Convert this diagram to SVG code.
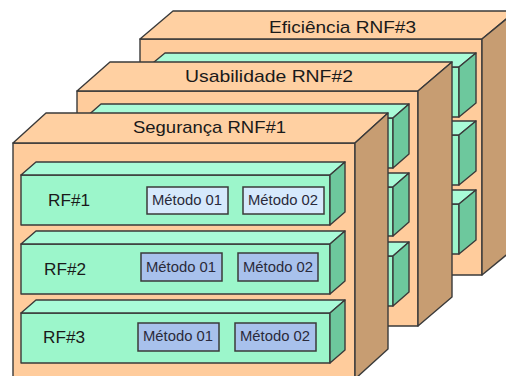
<svg xmlns="http://www.w3.org/2000/svg" width="506" height="376" viewBox="0 0 506 376">
<style>
  .ln{stroke:#3a3a3a;stroke-width:1.4;stroke-linejoin:round}
  .front{fill:#FFCC9C}
  .top{fill:#FFD0A2}
  .side{fill:#C79D72}
  .bfront{fill:#9CF6CB}
  .btop{fill:#A9FBD8}
  .bside{fill:#6DC89D}
  .m1{fill:#D6E9FC;stroke:#3a3a3a;stroke-width:1.5}
  .m2{fill:#A8C1EC;stroke:#3a3a3a;stroke-width:1.5}
  .hdr{font-family:"Liberation Sans",Arial,sans-serif;font-size:17px;fill:#1a1a1a}
  .rf{font-family:"Liberation Sans",Arial,sans-serif;font-size:16px;fill:#1a1a1a}
  .mt{font-family:"Liberation Sans",Arial,sans-serif;font-size:14px;fill:#2a2a3a}
</style>
<rect width="506" height="376" fill="#ffffff"/>

<!-- Box 3: Eficiência -->
<g id="rnf3">
  <rect class="front ln" x="140" y="39" width="342" height="236"/>
  <polygon class="top ln" points="140,39 173,11 516,11 482,39"/>
  <polygon class="side ln" points="482,39 516,11 516,247 482,275"/>
  <text class="hdr" x="269" y="33" textLength="147" lengthAdjust="spacingAndGlyphs">Eficiência RNF#3</text>
  <g id="rnf3-rf1">
    <rect class="bfront ln" x="148" y="67" width="311" height="50"/>
    <polygon class="btop ln" points="148,67 165,53 476,53 459,67"/>
    <polygon class="bside ln" points="459,67 476,53 476,103 459,117"/>
  </g>
  <g id="rnf3-rf2">
    <rect class="bfront ln" x="148" y="135" width="311" height="50"/>
    <polygon class="btop ln" points="148,135 165,121 476,121 459,135"/>
    <polygon class="bside ln" points="459,135 476,121 476,171 459,185"/>
  </g>
  <g id="rnf3-rf3">
    <rect class="bfront ln" x="148" y="204" width="311" height="50"/>
    <polygon class="btop ln" points="148,204 165,190 476,190 459,204"/>
    <polygon class="bside ln" points="459,204 476,190 476,240 459,254"/>
  </g>
</g>

<!-- Box 2: Usabilidade -->
<g id="rnf2">
  <rect class="front ln" x="77" y="91" width="341" height="235"/>
  <polygon class="top ln" points="77,91 110,62 452,62 418,91"/>
  <polygon class="side ln" points="418,91 452,62 452,297 418,326"/>
  <text class="hdr" x="185" y="82" textLength="168" lengthAdjust="spacingAndGlyphs">Usabilidade RNF#2</text>
  <g id="rnf2-rf1">
    <rect class="bfront ln" x="85" y="118" width="308" height="50"/>
    <polygon class="btop ln" points="85,118 101,104 409,104 393,118"/>
    <polygon class="bside ln" points="393,118 409,104 409,154 393,168"/>
  </g>
  <g id="rnf2-rf2">
    <rect class="bfront ln" x="85" y="187" width="308" height="49"/>
    <polygon class="btop ln" points="85,187 101,173 409,173 393,187"/>
    <polygon class="bside ln" points="393,187 409,173 409,222 393,236"/>
  </g>
  <g id="rnf2-rf3">
    <rect class="bfront ln" x="85" y="256" width="308" height="50"/>
    <polygon class="btop ln" points="85,256 101,242 409,242 393,256"/>
    <polygon class="bside ln" points="393,256 409,242 409,292 393,306"/>
  </g>
</g>

<!-- Box 1: Segurança -->
<g id="rnf1">
  <rect class="front ln" x="13" y="143" width="342" height="236"/>
  <polygon class="top ln" points="13,143 46,113 388,113 355,143"/>
  <polygon class="side ln" points="355,143 388,113 388,349 355,379"/>
  <text class="hdr" x="133" y="133" textLength="153" lengthAdjust="spacingAndGlyphs">Segurança RNF#1</text>
</g>

<g id="rf1">
  <rect class="bfront ln" x="21" y="175" width="309" height="50"/>
  <polygon class="btop ln" points="21,175 36,162 345,162 330,175"/>
  <polygon class="bside ln" points="330,175 345,162 345,212 330,225"/>
  <text class="rf" x="48" y="206" textLength="42" lengthAdjust="spacingAndGlyphs">RF#1</text>
</g>
<g id="rf1-m1">
  <rect class="m1" x="147" y="187" width="81" height="27"/>
  <text class="mt" x="152" y="204.5" textLength="70" lengthAdjust="spacingAndGlyphs">Método 01</text>
</g>
<g id="rf1-m2">
  <rect class="m1" x="243" y="187" width="81" height="27"/>
  <text class="mt" x="248" y="204.5" textLength="70" lengthAdjust="spacingAndGlyphs">Método 02</text>
</g>

<g id="rf2">
  <rect class="bfront ln" x="21" y="244" width="309" height="50"/>
  <polygon class="btop ln" points="21,244 36,231 345,231 330,244"/>
  <polygon class="bside ln" points="330,244 345,231 345,281 330,294"/>
  <text class="rf" x="44" y="275" textLength="42" lengthAdjust="spacingAndGlyphs">RF#2</text>
</g>
<g id="rf2-m1">
  <rect class="m2" x="141" y="253" width="81" height="28"/>
  <text class="mt" x="146" y="271.5" textLength="70" lengthAdjust="spacingAndGlyphs">Método 01</text>
</g>
<g id="rf2-m2">
  <rect class="m2" x="238" y="253" width="80" height="28"/>
  <text class="mt" x="243" y="271.5" textLength="70" lengthAdjust="spacingAndGlyphs">Método 02</text>
</g>

<g id="rf3">
  <rect class="bfront ln" x="21" y="313" width="309" height="50"/>
  <polygon class="btop ln" points="21,313 36,300 345,300 330,313"/>
  <polygon class="bside ln" points="330,313 345,300 345,350 330,363"/>
  <text class="rf" x="43" y="343" textLength="42" lengthAdjust="spacingAndGlyphs">RF#3</text>
</g>
<g id="rf3-m1">
  <rect class="m2" x="138" y="323" width="81" height="28"/>
  <text class="mt" x="143" y="340.5" textLength="70" lengthAdjust="spacingAndGlyphs">Método 01</text>
</g>
<g id="rf3-m2">
  <rect class="m2" x="235" y="323" width="81" height="28"/>
  <text class="mt" x="240" y="340.5" textLength="70" lengthAdjust="spacingAndGlyphs">Método 02</text>
</g>
</svg>
